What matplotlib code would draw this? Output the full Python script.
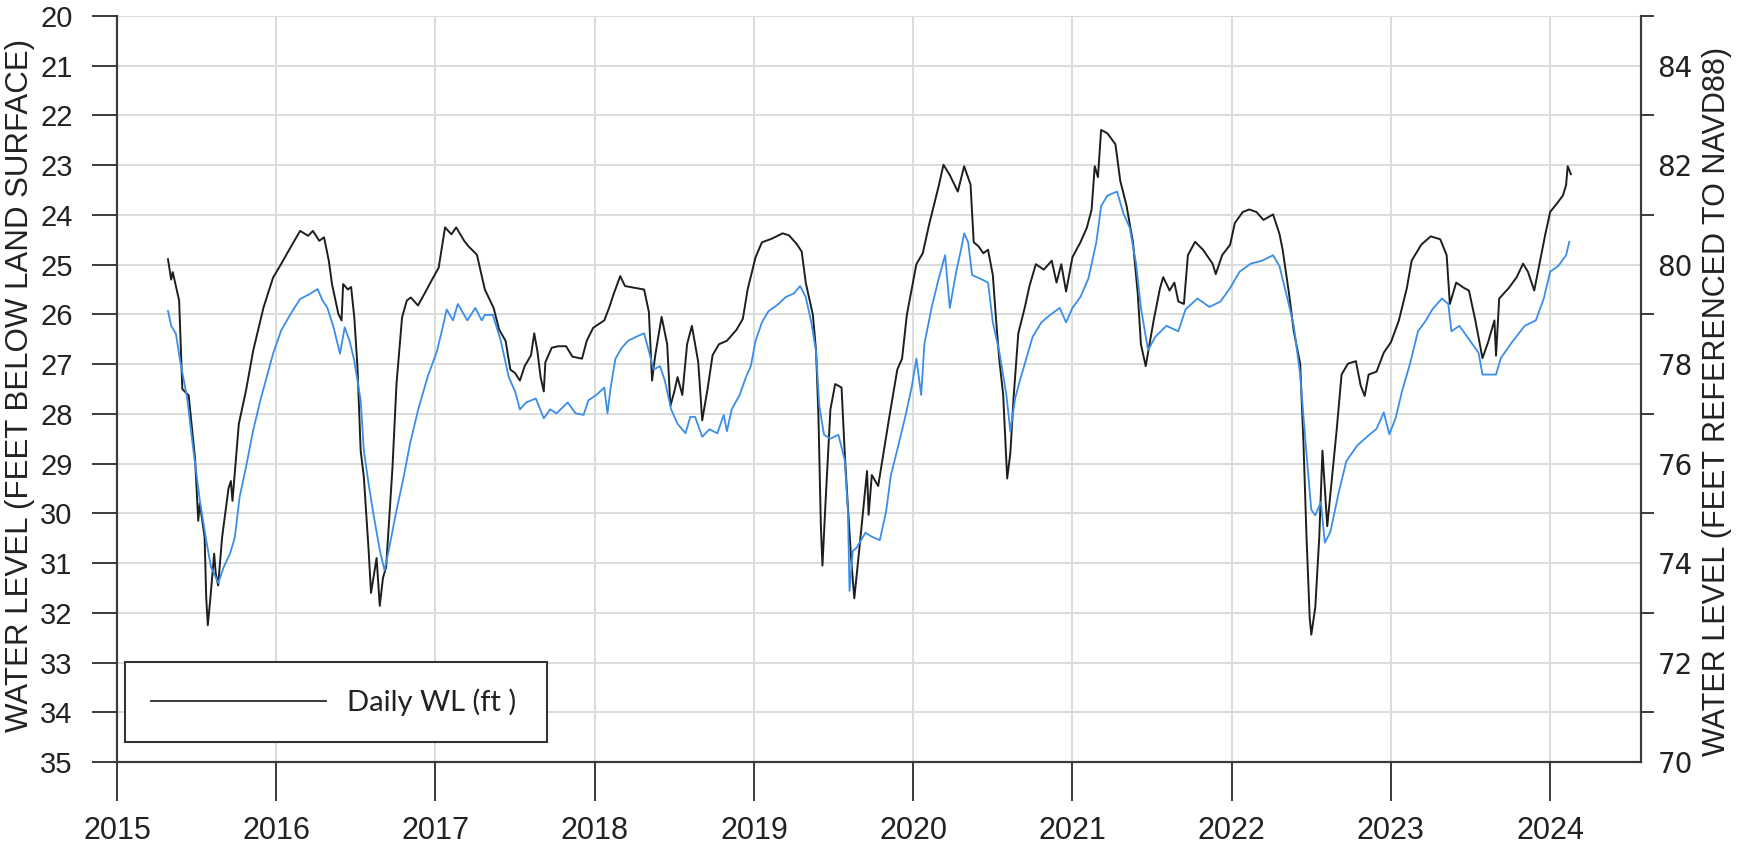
import matplotlib
matplotlib.use('Agg')
import matplotlib.pyplot as plt
from matplotlib.lines import Line2D
from matplotlib.ticker import NullFormatter

plt.rcParams['font.family'] = ['Liberation Sans', 'DejaVu Sans']

# daily water level, depth below land surface (ft), by decimal year
wl_year = [
    2015.32, 2015.34, 2015.35, 2015.39, 2015.41, 2015.45, 2015.49, 2015.51, 2015.52, 2015.55,
    2015.56, 2015.57, 2015.585, 2015.61, 2015.62, 2015.635, 2015.66, 2015.70, 2015.715, 2015.725,
    2015.765, 2015.81, 2015.855, 2015.92, 2015.98, 2016.03, 2016.09, 2016.15, 2016.20, 2016.23,
    2016.27, 2016.30, 2016.33, 2016.35, 2016.39, 2016.41, 2016.42, 2016.45, 2016.47, 2016.49,
    2016.51, 2016.53, 2016.55, 2016.58, 2016.595, 2016.63, 2016.65, 2016.67, 2016.69, 2016.71,
    2016.73, 2016.755, 2016.79, 2016.82, 2016.845, 2016.89, 2016.93, 2016.975, 2017.02, 2017.06,
    2017.10, 2017.13, 2017.18, 2017.207, 2017.26, 2017.31, 2017.365, 2017.40, 2017.44, 2017.47,
    2017.50, 2017.53, 2017.56, 2017.60, 2017.62, 2017.64, 2017.66, 2017.68, 2017.69, 2017.73,
    2017.77, 2017.82, 2017.86, 2017.92, 2017.95, 2017.99, 2018.06, 2018.09, 2018.12, 2018.16,
    2018.19, 2018.26, 2018.31, 2018.34, 2018.36, 2018.38, 2018.42, 2018.455, 2018.475, 2018.50,
    2018.52, 2018.55, 2018.58, 2018.61, 2018.63, 2018.65, 2018.675, 2018.71, 2018.74, 2018.78,
    2018.83, 2018.89, 2018.93, 2018.96, 2019.01, 2019.05, 2019.11, 2019.18, 2019.22, 2019.27,
    2019.30, 2019.325, 2019.37, 2019.39, 2019.405, 2019.42, 2019.43, 2019.45, 2019.48, 2019.51,
    2019.55, 2019.57, 2019.59, 2019.61, 2019.63, 2019.665, 2019.71, 2019.72, 2019.74, 2019.78,
    2019.81, 2019.85, 2019.90, 2019.93, 2019.96, 2019.99, 2020.02, 2020.06, 2020.10, 2020.14,
    2020.16, 2020.19, 2020.23, 2020.28, 2020.32, 2020.36, 2020.38, 2020.41, 2020.44, 2020.47,
    2020.50, 2020.52, 2020.54, 2020.565, 2020.59, 2020.61, 2020.63, 2020.66, 2020.70, 2020.73,
    2020.77, 2020.82, 2020.87, 2020.90, 2020.93, 2020.96, 2021.00, 2021.05, 2021.09, 2021.12,
    2021.14, 2021.16, 2021.18, 2021.22, 2021.27, 2021.30, 2021.34, 2021.38, 2021.41, 2021.43,
    2021.46, 2021.51, 2021.55, 2021.57, 2021.61, 2021.64, 2021.665, 2021.70, 2021.725, 2021.77,
    2021.82, 2021.88, 2021.90, 2021.94, 2021.99, 2022.02, 2022.07, 2022.11, 2022.155, 2022.20,
    2022.26, 2022.30, 2022.32, 2022.36, 2022.39, 2022.43, 2022.45, 2022.47, 2022.49, 2022.50,
    2022.525, 2022.55, 2022.57, 2022.60, 2022.62, 2022.66, 2022.69, 2022.73, 2022.78, 2022.81,
    2022.835, 2022.86, 2022.91, 2022.955, 2023.00, 2023.05, 2023.10, 2023.13, 2023.19, 2023.25,
    2023.31, 2023.35, 2023.37, 2023.41, 2023.46, 2023.49, 2023.53, 2023.575, 2023.61, 2023.65,
    2023.66, 2023.68, 2023.74, 2023.79, 2023.83, 2023.86, 2023.90, 2023.93, 2023.97, 2024.00,
    2024.04, 2024.08, 2024.10, 2024.11, 2024.13,
]
wl_depth = [
    24.89, 25.30, 25.15, 25.72, 27.50, 27.63, 28.90, 30.15, 29.80, 30.48,
    31.68, 32.25, 31.75, 30.81, 31.21, 31.45, 30.48, 29.50, 29.35, 29.75,
    28.20, 27.53, 26.73, 25.86, 25.26, 24.99, 24.65, 24.32, 24.42, 24.32,
    24.52, 24.45, 24.92, 25.39, 25.99, 26.12, 25.39, 25.50, 25.45, 26.06,
    27.06, 28.74, 29.27, 30.74, 31.60, 30.90, 31.86, 31.30, 31.08, 30.07,
    29.07, 27.40, 26.06, 25.72, 25.66, 25.82, 25.59, 25.32, 25.06, 24.25,
    24.39, 24.25, 24.52, 24.63, 24.80, 25.50, 25.87, 26.31, 26.53, 27.11,
    27.18, 27.33, 27.04, 26.82, 26.38, 26.74, 27.26, 27.55, 26.96, 26.67,
    26.64, 26.64, 26.85, 26.89, 26.53, 26.27, 26.12, 25.87, 25.58, 25.23,
    25.43, 25.47, 25.50, 25.95, 27.33, 26.82, 26.05, 26.60, 27.84, 27.55,
    27.26, 27.62, 26.60, 26.23, 26.60, 26.96, 28.13, 27.47, 26.82, 26.60,
    26.53, 26.31, 26.09, 25.50, 24.85, 24.55, 24.48, 24.37, 24.41, 24.59,
    24.74, 25.36, 26.01, 26.74, 28.06, 30.25, 31.05, 29.74, 27.91, 27.40,
    27.47, 28.79, 29.88, 30.90, 31.71, 30.61, 29.15, 30.03, 29.23, 29.45,
    28.86, 28.06, 27.11, 26.89, 26.01, 25.50, 24.99, 24.77, 24.19, 23.68,
    23.42, 22.99, 23.20, 23.53, 23.02, 23.39, 24.55, 24.63, 24.77, 24.70,
    25.21, 26.09, 26.89, 27.62, 29.30, 28.79, 27.69, 26.38, 25.87, 25.43,
    24.99, 25.10, 24.92, 25.36, 24.99, 25.54, 24.85, 24.55, 24.26, 23.90,
    23.02, 23.24, 22.29, 22.36, 22.58, 23.31, 23.82, 24.55, 25.58, 26.60,
    27.04, 26.12, 25.47, 25.25, 25.52, 25.36, 25.74, 25.79, 24.81, 24.54,
    24.70, 24.98, 25.19, 24.81, 24.60, 24.16, 23.94, 23.89, 23.94, 24.10,
    23.99, 24.38, 24.70, 25.58, 26.34, 26.99, 28.52, 30.48, 32.11, 32.44,
    31.89, 30.48, 28.74, 30.26, 29.61, 28.30, 27.21, 26.99, 26.94, 27.43,
    27.64, 27.21, 27.15, 26.77, 26.56, 26.12, 25.47, 24.92, 24.60, 24.43,
    24.49, 24.81, 25.79, 25.36, 25.47, 25.52, 26.12, 26.88, 26.56, 26.12,
    26.83, 25.68, 25.47, 25.25, 24.98, 25.14, 25.52, 25.03, 24.38, 23.94,
    23.78, 23.61, 23.40, 23.02, 23.18,
]

# water level elevation (ft, NAVD88), by decimal year
elev_year = [
    2015.32, 2015.34, 2015.37, 2015.396, 2015.44, 2015.48, 2015.52, 2015.56, 2015.59, 2015.636,
    2015.67, 2015.71, 2015.74, 2015.77, 2015.81, 2015.855, 2015.90, 2015.94, 2015.98, 2016.03,
    2016.09, 2016.15, 2016.21, 2016.26, 2016.29, 2016.32, 2016.36, 2016.40, 2016.43, 2016.46,
    2016.49, 2016.53, 2016.55, 2016.58, 2016.61, 2016.65, 2016.68, 2016.71, 2016.755, 2016.80,
    2016.84, 2016.89, 2016.95, 2017.01, 2017.05, 2017.07, 2017.11, 2017.14, 2017.20, 2017.25,
    2017.29, 2017.31, 2017.36, 2017.41, 2017.46, 2017.50, 2017.53, 2017.57, 2017.63, 2017.68,
    2017.72, 2017.76, 2017.83, 2017.88, 2017.93, 2017.96, 2018.01, 2018.06, 2018.08, 2018.10,
    2018.13, 2018.17, 2018.21, 2018.26, 2018.31, 2018.34, 2018.37, 2018.41, 2018.44, 2018.48,
    2018.52, 2018.57, 2018.60, 2018.63, 2018.675, 2018.72, 2018.77, 2018.81, 2018.83, 2018.86,
    2018.91, 2018.95, 2018.98, 2019.01, 2019.05, 2019.09, 2019.15, 2019.20, 2019.25, 2019.29,
    2019.325, 2019.36, 2019.39, 2019.41, 2019.44, 2019.48, 2019.53, 2019.57, 2019.59, 2019.60,
    2019.62, 2019.645, 2019.70, 2019.74, 2019.79, 2019.83, 2019.86, 2019.90, 2019.95, 2019.99,
    2020.02, 2020.05, 2020.07, 2020.115, 2020.16, 2020.20, 2020.23, 2020.27, 2020.30, 2020.32,
    2020.345, 2020.37, 2020.42, 2020.47, 2020.50, 2020.54, 2020.585, 2020.61, 2020.64, 2020.67,
    2020.71, 2020.75, 2020.805, 2020.86, 2020.92, 2020.96, 2021.00, 2021.05, 2021.10, 2021.15,
    2021.18, 2021.22, 2021.28, 2021.32, 2021.36, 2021.40, 2021.43, 2021.475, 2021.52, 2021.59,
    2021.665, 2021.71, 2021.785, 2021.86, 2021.93, 2021.99, 2022.05, 2022.12, 2022.19, 2022.26,
    2022.30, 2022.35, 2022.39, 2022.43, 2022.465, 2022.50, 2022.525, 2022.56, 2022.585, 2022.62,
    2022.67, 2022.72, 2022.79, 2022.85, 2022.91, 2022.955, 2022.99, 2023.03, 2023.07, 2023.12,
    2023.17, 2023.22, 2023.26, 2023.32, 2023.36, 2023.38, 2023.43, 2023.49, 2023.55, 2023.575,
    2023.62, 2023.66, 2023.69, 2023.76, 2023.84, 2023.91, 2023.96, 2024.00, 2024.05, 2024.10,
    2024.12,
]
elev_navd88 = [
    79.07, 78.77, 78.61, 78.07, 77.33, 76.26, 75.26, 74.46, 73.92, 73.60,
    73.92, 74.19, 74.52, 75.33, 75.93, 76.67, 77.27, 77.74, 78.21, 78.67,
    79.01, 79.31, 79.41, 79.51, 79.28, 79.14, 78.74, 78.21, 78.74, 78.47,
    78.07, 77.27, 76.26, 75.59, 74.99, 74.26, 73.85, 74.32, 75.06, 75.73,
    76.40, 77.07, 77.74, 78.27, 78.81, 79.10, 78.88, 79.21, 78.88, 79.13,
    78.88, 78.99, 78.99, 78.47, 77.74, 77.45, 77.09, 77.23, 77.31, 76.91,
    77.09, 77.01, 77.23, 77.01, 76.98, 77.27, 77.38, 77.53, 77.01, 77.53,
    78.11, 78.33, 78.47, 78.55, 78.62, 78.26, 77.89, 77.96, 77.67, 77.09,
    76.80, 76.61, 76.94, 76.94, 76.54, 76.69, 76.61, 76.98, 76.65, 77.09,
    77.38, 77.74, 77.96, 78.47, 78.84, 79.06, 79.20, 79.35, 79.42, 79.57,
    79.35, 78.84, 78.26, 77.16, 76.58, 76.50, 76.58, 76.07, 75.05, 73.44,
    74.24, 74.31, 74.61, 74.53, 74.46, 75.04, 75.77, 76.28, 76.94, 77.53,
    78.11, 77.38, 78.40, 79.13, 79.72, 80.19, 79.13, 79.86, 80.30, 80.63,
    80.45, 79.79, 79.72, 79.64, 78.84, 78.26, 77.38, 76.65, 77.31, 77.67,
    78.11, 78.55, 78.84, 78.99, 79.13, 78.84, 79.13, 79.35, 79.72, 80.45,
    81.18, 81.39, 81.47, 81.03, 80.74, 80.01, 79.13, 78.28, 78.55, 78.77,
    78.66, 79.10, 79.32, 79.15, 79.26, 79.53, 79.86, 80.02, 80.08, 80.19,
    79.97, 79.32, 78.77, 77.79, 76.37, 75.07, 74.96, 75.23, 74.41, 74.63,
    75.39, 76.05, 76.37, 76.54, 76.70, 77.03, 76.59, 76.92, 77.46, 78.01,
    78.66, 78.88, 79.10, 79.32, 79.21, 78.66, 78.77, 78.50, 78.23, 77.79,
    77.79, 77.79, 78.12, 78.44, 78.77, 78.88, 79.32, 79.86, 79.97, 80.19,
    80.46,
]

year_ticks = list(range(2015, 2025))
depth_ticks = list(range(20, 36))
elev_labels = list(range(70, 85, 2))
elev_marks = list(range(71, 86, 2))

axis_col = '#3a3a3a'
text_col = '#222222'

fig = plt.figure(figsize=(17.44, 8.43), dpi=100)
ax = fig.add_axes([0.0671, 0.0961, 0.8738, 0.8849])

line_wl, = ax.plot(wl_year, wl_depth, color='#1e1e1e', linewidth=1.4, zorder=3)
ax.set_xlim(2015, 2024.57)
ax.set_ylim(35, 20)
ax.grid(True, color='#dcdcdc', linewidth=1.4)
ax.set_axisbelow(True)

ax.set_xticks(year_ticks)
ax.set_xticklabels([str(y) for y in year_ticks])
ax.set_yticks(depth_ticks)
ax.tick_params(axis='x', length=28, width=1.4, color=axis_col, labelcolor=text_col,
               labelsize=22, pad=11)
ax.tick_params(axis='y', length=18, width=1.4, color=axis_col, labelcolor=text_col,
               labelsize=21, pad=14)
ax.set_ylabel('WATER LEVEL (FEET BELOW LAND SURFACE)', fontsize=22.5, color=text_col)
ax.yaxis.set_label_coords(-0.054, 0.505)

# right axis in NAVD88 elevation
ax2 = ax.twinx()
ax2.plot(elev_year, elev_navd88, color='#3a8ee8', linewidth=1.3, zorder=2)
ax2.set_ylim(70, 85)
ax2.set_yticks(elev_marks)
ax2.yaxis.set_major_formatter(NullFormatter())
ax2.set_yticks(elev_labels, labels=[str(v) for v in elev_labels], minor=True)
ax2.tick_params(axis='y', which='major', length=9, width=1.4, color=axis_col)
ax2.tick_params(axis='y', which='minor', length=0, pad=12, labelsize=20, labelcolor=text_col)
for lbl in ax2.get_yticklabels(minor=True):
    lbl.set_fontfamily('DejaVu Sans')
ax2.set_ylabel('WATER LEVEL (FEET REFERENCED TO NAVD88)', fontsize=22, color=text_col)
ax2.yaxis.set_label_coords(1.040, 0.484)

for a in (ax, ax2):
    a.spines['top'].set_visible(False)
    for side in ('left', 'right', 'bottom'):
        a.spines[side].set_color(axis_col)
        a.spines[side].set_linewidth(1.5)

leg = ax2.legend([Line2D([], [], color='#2b2b2b', linewidth=1.3)], ['Daily WL (ft )'],
                 loc='lower left', bbox_to_anchor=(0.0053, 0.0268, 0.2769, 0.107),
                 mode='expand', borderaxespad=0, fancybox=False, framealpha=1,
                 edgecolor='#333333', handlelength=6.0, handletextpad=0.7,
                 borderpad=0.9, prop={'family': 'Lato', 'size': 21})
leg.get_frame().set_linewidth(1.5)
for t in leg.get_texts():
    t.set_color(text_col)

fig.savefig('out.png', dpi=100)
